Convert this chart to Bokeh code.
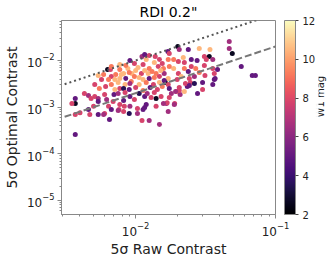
import math
from bokeh.plotting import figure
from bokeh.models import (ColumnDataSource, LinearColorMapper, ColorBar, LinearAxis,
                          Range1d, FixedTicker, LogTickFormatter)
from bokeh.palettes import Magma256
from bokeh.embed import file_html
from bokeh.resources import INLINE

raw_contrast = [0.0063, 0.0066, 0.0054, 0.0059, 0.0067, 0.0057, 0.0064, 0.0071, 0.0170, 0.0125,
                0.0138, 0.0091, 0.0119, 0.0148, 0.0171, 0.0088, 0.0104, 0.0113, 0.0125, 0.0145,
                0.0158, 0.0077, 0.0082, 0.0094, 0.0110, 0.0123, 0.0140, 0.0160, 0.0077, 0.0085,
                0.0098, 0.0113, 0.0125, 0.0148, 0.0171, 0.0200, 0.0205, 0.0238, 0.0285, 0.0340,
                0.0187, 0.0202, 0.0223, 0.0250, 0.0275, 0.0310, 0.0336, 0.0320, 0.0356, 0.0223,
                0.0250, 0.0187, 0.0310, 0.0356, 0.0202, 0.0238, 0.0365, 0.0385, 0.0365, 0.0212,
                0.0242, 0.0198, 0.0467, 0.0467, 0.0491, 0.0569, 0.0682, 0.0718, 0.0163, 0.0171,
                0.0166, 0.0190, 0.0171, 0.0189, 0.0246, 0.0263, 0.0234, 0.0205, 0.0180, 0.0197,
                0.0208, 0.0277, 0.0301, 0.0370, 0.0356, 0.0227, 0.0242, 0.0223, 0.0205, 0.0193,
                0.0077, 0.0091, 0.0116, 0.0119, 0.0116, 0.0140, 0.0152, 0.0168, 0.0158, 0.0140,
                0.0077, 0.0083, 0.0091, 0.0103, 0.0113, 0.0090, 0.0103, 0.0125, 0.0148, 0.0082,
                0.0076, 0.0043, 0.0046, 0.0051, 0.0048, 0.0054, 0.0037, 0.0037, 0.0035, 0.0054,
                0.0060, 0.0062, 0.0069, 0.0070, 0.0050, 0.0064, 0.0067, 0.0060, 0.0054, 0.0059,
                0.0047, 0.0037, 0.0037, 0.0075, 0.0111, 0.0065, 0.0040, 0.0046, 0.0075, 0.0084,
                0.0093, 0.0106, 0.0119, 0.0134, 0.0082, 0.0067, 0.0061, 0.0071, 0.0090, 0.0100,
                0.0113, 0.0127, 0.0143, 0.0155, 0.0075, 0.0084, 0.0106, 0.0121, 0.0136, 0.0055,
                0.0051, 0.0079, 0.0090, 0.0100, 0.0116, 0.0131, 0.0151, 0.0085, 0.0098, 0.0136,
                0.0155, 0.0174, 0.0072, 0.0106, 0.0136, 0.0160, 0.0091, 0.0148, 0.0174, 0.0129,
                0.0098, 0.0082, 0.0174, 0.0263, 0.0285, 0.0313, 0.0269, 0.0301, 0.0219, 0.0174,
                0.0111, 0.0077, 0.0067, 0.0116]

optimal_contrast = [0.00642, 0.00642, 0.00477, 0.00501, 0.00454, 0.00392, 0.00392, 0.00392, 0.0156, 0.0128,
                    0.0122, 0.0100, 0.0105, 0.0105, 0.0105, 0.00674, 0.00708, 0.00821, 0.00674, 0.00744,
                    0.00674, 0.00642, 0.00527, 0.00527, 0.00527, 0.00527, 0.00527, 0.00527, 0.00412, 0.00412,
                    0.00454, 0.00392, 0.00412, 0.00454, 0.00412, 0.0200, 0.0172, 0.0172, 0.0181, 0.0172,
                    0.0105, 0.00952, 0.00906, 0.0105, 0.0100, 0.0122, 0.0122, 0.0105, 0.0105, 0.00674,
                    0.00744, 0.00674, 0.00782, 0.00674, 0.00527, 0.00581, 0.00527, 0.00642, 0.00392, 0.00454,
                    0.00412, 0.00392, 0.0255, 0.0181, 0.0141, 0.00744, 0.00477, 0.00477, 0.00338, 0.00306,
                    0.00120, 0.00120, 0.000809, 0.00114, 0.00338, 0.00322, 0.00277, 0.00264, 0.00196, 0.00217,
                    0.00187, 0.00196, 0.00239, 0.00412, 0.00306, 0.00322, 0.00291, 0.00217, 0.00228, 0.00217,
                    0.00251, 0.00169, 0.00169, 0.00114, 0.000986, 0.00154, 0.00169, 0.00124, 0.00120, 0.00104,
                    0.00114, 0.00104, 0.00104, 0.000938, 0.000893, 0.000733, 0.000733, 0.000519, 0.000427, 0.000809,
                    0.000893, 0.00196, 0.00178, 0.00169, 0.00154, 0.00154, 0.00154, 0.00120, 0.00120, 0.00132,
                    0.00187, 0.00146, 0.00132, 0.00187, 0.00104, 0.00104, 0.000893, 0.000733, 0.000698, 0.000698,
                    0.000698, 0.000698, 0.000260, 0.000850, 0.000519, 0.000546, 0.000760, 0.000893, 0.00338, 0.00306,
                    0.00355, 0.00306, 0.00338, 0.00306, 0.00251, 0.00306, 0.00277, 0.00239, 0.00239, 0.00264,
                    0.00228, 0.00264, 0.00239, 0.00277, 0.00196, 0.00206, 0.00196, 0.00196, 0.00206, 0.00251,
                    0.00306, 0.00501, 0.00553, 0.00611, 0.00611, 0.00581, 0.00611, 0.00782, 0.00863, 0.00906,
                    0.00863, 0.00744, 0.00501, 0.00432, 0.00432, 0.00373, 0.00322, 0.00338, 0.00251, 0.00161,
                    0.00146, 0.00139, 0.00161, 0.00454, 0.00553, 0.00477, 0.00674, 0.00338, 0.0116, 0.0141,
                    0.0122, 0.00821, 0.00744, 0.0135]

w1_mag = [2.6, 7.8, 10.5, 9.2, 7.8, 7.8, 9.2, 10.5, 5.0, 7.8,
          7.8, 5.0, 10.5, 7.8, 9.2, 10.5, 10.5, 7.8, 9.2, 7.8,
          9.2, 9.2, 10.5, 10.5, 7.8, 10.5, 9.2, 6.5, 10.5, 5.0,
          9.2, 10.5, 5.0, 7.8, 10.5, 2.6, 6.5, 5.0, 10.5, 10.5,
          9.2, 7.8, 7.8, 5.0, 5.0, 7.8, 2.6, 7.8, 6.5, 9.2,
          7.8, 10.5, 7.8, 7.8, 7.8, 5.0, 7.8, 5.0, 5.0, 10.5,
          7.8, 7.8, 6.5, 6.5, 2.6, 5.0, 5.0, 5.0, 2.6, 7.8,
          6.5, 7.8, 6.5, 6.5, 7.8, 3.5, 5.0, 7.8, 6.5, 9.2,
          6.5, 5.0, 7.8, 5.0, 5.0, 7.8, 5.0, 10.5, 7.8, 6.5,
          7.8, 5.0, 5.0, 5.0, 5.0, 2.6, 7.8, 7.8, 6.5, 7.8,
          7.8, 7.8, 6.5, 7.8, 5.0, 3.5, 6.5, 6.5, 6.5, 7.8,
          7.8, 7.8, 6.5, 7.8, 7.8, 6.5, 5.0, 2.6, 7.8, 5.0,
          7.8, 6.5, 7.8, 5.0, 7.8, 7.8, 5.0, 7.8, 5.0, 6.5,
          7.8, 7.8, 5.0, 6.5, 7.8, 5.0, 7.8, 5.0, 10.5, 10.5,
          9.2, 10.5, 9.2, 7.8, 3.5, 9.2, 7.8, 10.5, 5.0, 7.8,
          9.2, 5.0, 7.8, 9.2, 6.5, 7.8, 3.5, 6.5, 7.8, 9.2,
          7.8, 10.5, 9.2, 10.5, 10.5, 9.2, 10.5, 9.2, 7.8, 10.5,
          7.8, 9.2, 9.2, 10.5, 9.2, 5.0, 6.5, 10.5, 5.0, 7.8,
          7.8, 5.0, 7.8, 6.5, 9.2, 7.8, 9.2, 5.0, 10.5, 7.8,
          6.5, 10.5, 9.2, 5.0]

ref_x = [1e-4, 1.0]
one_to_one = [1e-4, 1.0]
one_fifth = [2e-5, 0.2]

x_range = (0.00295, 0.1)
y_range = (5.0e-6, 0.072)
x_major = [1e-3, 1e-2, 1e-1]
x_minor = [3e-3, 4e-3, 5e-3, 6e-3, 7e-3, 8e-3, 9e-3,
           2e-2, 3e-2, 4e-2, 5e-2, 6e-2, 7e-2, 8e-2, 9e-2]
y_major = [1e-6, 1e-5, 1e-4, 1e-3, 1e-2, 1e-1]
y_minor = [m * d for d in (1e-6, 1e-5, 1e-4, 1e-3, 1e-2) for m in (2, 3, 4, 5, 6, 7, 8, 9)]
cbar_range = (2, 12)
cbar_ticks = [2, 4, 6, 8, 10, 12]

FONT = "DejaVu Sans"

p = figure(frame_width=214, frame_height=194, x_axis_type="log", y_axis_type="log",
           x_range=Range1d(*x_range), y_range=Range1d(*y_range),
           output_backend="svg", toolbar_location=None,
           min_border_left=54, min_border_top=16, min_border_bottom=46, min_border_right=0)

p.title.text = "RDI 0.2\""
p.title.align = "center"
p.title.text_font = FONT
p.title.text_font_size = "14px"
p.title.text_font_style = "normal"
p.title.text_color = "black"
p.title.standoff = 2

p.xgrid.visible = False
p.ygrid.visible = False
p.outline_line_color = "#888888"
p.outline_line_width = 1

p.xaxis.ticker = FixedTicker(ticks=x_major, minor_ticks=x_minor)
p.yaxis.ticker = FixedTicker(ticks=y_major, minor_ticks=y_minor)
p.xaxis.formatter = LogTickFormatter()
p.yaxis.formatter = LogTickFormatter()

for ax in (p.xaxis[0], p.yaxis[0]):
    ax.axis_line_color = "#888888"
    ax.major_tick_line_color = "#888888"
    ax.minor_tick_line_color = "#888888"
    ax.major_tick_out = 4
    ax.major_tick_in = 0
    ax.minor_tick_out = 2
    ax.minor_tick_in = 0
    ax.major_label_standoff = 3
    ax.major_label_text_font = FONT
    ax.major_label_text_font_size = "12px"
    ax.major_label_text_color = "#222222"
    ax.axis_label_text_font = FONT
    ax.axis_label_text_font_size = "14px"
    ax.axis_label_text_font_style = "normal"
    ax.axis_label_text_color = "#222222"

p.xaxis.axis_label = "5σ Raw Contrast"
p.yaxis.axis_label = "5σ Optimal Contrast"
p.xaxis.axis_label_standoff = 2
p.yaxis.axis_label_standoff = 4

mapper = LinearColorMapper(palette=Magma256, low=cbar_range[0], high=cbar_range[1])
src = ColumnDataSource(dict(x=raw_contrast, y=optimal_contrast, mag=w1_mag))
p.scatter("x", "y", source=src, size=5,
          fill_color={"field": "mag", "transform": mapper}, line_color=None)

p.line(ref_x, one_to_one, line_color="#555555", line_width=2, line_dash="2 3")
p.line(ref_x, one_fifth, line_color="#777777", line_width=2, line_dash="7 3")

cbar = ColorBar(color_mapper=mapper, ticker=FixedTicker(ticks=cbar_ticks),
                width=11, margin=0, padding=0, location=(9, 0),
                major_tick_line_color="#444444", major_tick_out=3, major_tick_in=0,
                minor_tick_line_color=None,
                major_label_text_font=FONT, major_label_text_font_size="10px",
                major_label_text_color="#222222", label_standoff=4,
                bar_line_color="#888888")
p.add_layout(cbar, "right")

p.extra_y_ranges = {"cbar": Range1d(*cbar_range)}
label_axis = LinearAxis(y_range_name="cbar", ticker=FixedTicker(ticks=[]),
                        axis_line_color=None, major_tick_line_color=None,
                        minor_tick_line_color=None, major_label_text_font_size="0px",
                        axis_label="W1 mag", axis_label_standoff=2,
                        axis_label_text_font=FONT, axis_label_text_font_size="10px",
                        axis_label_text_font_style="normal",
                        axis_label_text_color="#222222")
try:
    label_axis.axis_label_orientation = math.pi / 2
except Exception:
    pass
p.add_layout(label_axis, "right")

open("out.html", "w").write(file_html(p, INLINE))
